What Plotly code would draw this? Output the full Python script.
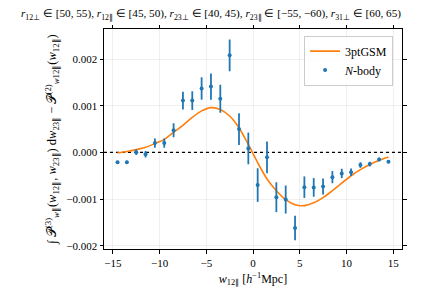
import plotly.graph_objects as go

# N-body data
x_nbody = [-14.5, -13.5, -12.5, -11.5, -10.5, -9.5, -8.5, -7.5, -6.5, -5.5,
           -4.5, -3.5, -2.5, -1.5, -0.5, 0.5, 1.5, 2.5, 3.5, 4.5,
           5.5, 6.5, 7.5, 8.5, 9.5, 10.5, 11.5, 12.5, 13.5, 14.5]
y_nbody = [-0.00021, -0.00021, 0.000005, -0.00004, 0.0002, 0.0002, 0.000475, 0.00111, 0.00111, 0.00137,
           0.00141, 0.00115, 0.00208, 0.0005, 0.000085, -0.0007, -0.000106, -0.00096, -0.00101, -0.00162,
           -0.000745, -0.00075, -0.00073, -0.00053, -0.00045, -0.000426, -0.00027, -0.00025, -0.00015, -0.0002]
err_nbody = [0.00003, 0.00003, 0.00006, 0.00007, 0.0001, 0.0001, 0.00015, 0.00019, 0.0002, 0.00024,
             0.00028, 0.0003, 0.00034, 0.00034, 0.00034, 0.00036, 0.00034, 0.00032, 0.0003, 0.00026,
             0.00023, 0.0002, 0.00017, 0.00013, 0.0001, 0.00008, 0.00006, 0.00005, 0.00004, 0.00003]

# 3ptGSM model
x_model = x_nbody
y_model = [-0.00001, 0.00002, 0.00006, 0.00011, 0.00019, 0.00028, 0.00043, 0.00058, 0.00075, 0.00089,
           0.00096, 0.00092, 0.00078, 0.00053, 0.00017, -0.00022, -0.00057, -0.00082, -0.00101, -0.00112,
           -0.00114, -0.00108, -0.00097, -0.00082, -0.00066, -0.0005, -0.00037, -0.00026, -0.00017, -0.0001]

x_ticks = [-15, -10, -5, 0, 5, 10, 15]
y_ticks = [-0.002, -0.001, 0.0, 0.001, 0.002]

FONT = "Liberation Serif"

fig = go.Figure()
fig.add_trace(go.Scatter(
    x=x_model, y=y_model, mode="lines", name="3ptGSM",
    line=dict(color="#ff7f0e", width=1.6, shape="spline", smoothing=0.8),
))
fig.add_trace(go.Scatter(
    x=x_nbody, y=y_nbody, mode="markers", name="<i>N</i>-body",
    marker=dict(color="#1f77b4", size=4),
    error_y=dict(type="data", array=err_nbody, color="#1f77b4", thickness=1.8, width=0),
))

fig.add_shape(type="line", xref="paper", yref="y", x0=0, x1=1, y0=0, y1=0,
              line=dict(color="black", width=1.2, dash="dot"), layer="below")

axis_common = dict(
    showline=True, linecolor="black", linewidth=1, mirror="allticks",
    ticks="outside", ticklen=3.5, tickwidth=0.8, tickcolor="black",
    showgrid=True, gridcolor="rgba(0,0,0,0.06)", gridwidth=0.8,
    zeroline=False, tickfont=dict(family=FONT, size=11, color="black"),
    automargin=False,
)

fig.update_layout(
    width=422, height=296,
    margin=dict(l=104, r=20, t=29, b=47, autoexpand=False),
    paper_bgcolor="white", plot_bgcolor="white",
    font=dict(family=FONT, color="black"),
    showlegend=True,
    title=dict(
        text=("<i>r</i><sub>12⊥</sub> ∈ [50, 55), <i>r</i><sub>12∥</sub> ∈ [45, 50), "
              "<i>r</i><sub>23⊥</sub> ∈ [40, 45), <i>r</i><sub>23∥</sub> ∈ [−55, −60), "
              "<i>r</i><sub>31⊥</sub> ∈ [60, 65)"),
        x=0.5, xref="container", xanchor="center",
        y=0.955, yref="container", yanchor="middle",
        font=dict(family=FONT, size=11.2, color="black"),
    ),
    legend=dict(
        x=0.97, y=0.97, xanchor="right", yanchor="top",
        bgcolor="rgba(255,255,255,0.8)", bordercolor="#cccccc", borderwidth=1,
        font=dict(family=FONT, size=12, color="black"),
        itemwidth=30, tracegroupgap=0,
    ),
    xaxis=dict(
        range=[-15.95, 15.95], tickvals=x_ticks,
        title=dict(text="<i>w</i><sub>12∥</sub> [<i>h</i><sup>−1</sup>Mpc]",
                   font=dict(family=FONT, size=12), standoff=6),
        **axis_common,
    ),
    yaxis=dict(
        range=[-0.00207, 0.002645], tickvals=y_ticks, tickformat=".3f",
        title=dict(text=("∫ 𝒫<sup>(3)</sup><sub><i>w</i>∥</sub>(<i>w</i><sub>12∥</sub>, <i>w</i><sub>23∥</sub>) d<i>w</i><sub>23∥</sub>"
                         " − 𝒫<sup>(2)</sup><sub><i>w</i>12∥</sub>(<i>w</i><sub>12∥</sub>)"),
                   font=dict(family=FONT, size=12.5), standoff=6),
        **axis_common,
    ),
)

fig.write_html("out.html", config={"displayModeBar": False},
               post_script="document.body.style.margin='0';")
